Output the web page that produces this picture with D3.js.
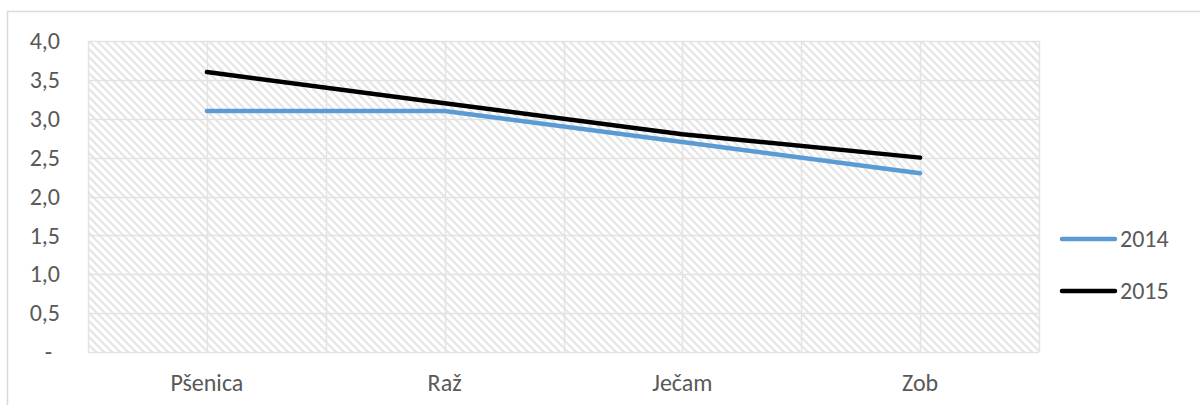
<!DOCTYPE html>
<html>
<head>
<meta charset="utf-8">
<script src="https://cdn.jsdelivr.net/npm/d3@7"></script>
<style>
  body { margin: 0; background: #fff; }
  svg text { font-family: Carlito, Calibri, "Open Sans", sans-serif; fill: #595959; }
</style>
</head>
<body>
<div id="chart"></div>
<script>
const categories = ["Pšenica", "Raž", "Ječam", "Zob"];
const values2014 = [3.1, 3.1, 2.7, 2.3];
const values2015 = [3.6, 3.2, 2.8, 2.5];
const yTicks = [0, 0.5, 1, 1.5, 2, 2.5, 3, 3.5, 4];

const series = [
    { name: "2014", values: values2014, color: "#5b9bd5" },
    { name: "2015", values: values2015, color: "#000000" }
];

const width = 1200, height = 405;
const plot = { left: 88, right: 1039, top: 41, bottom: 352 };

const svg = d3.select("#chart")
    .append("svg")
    .attr("width", width)
    .attr("height", height);

// chart area border (top and left only visible)
svg.append("rect")
    .attr("x", 7.5).attr("y", 11.5)
    .attr("width", 1200).attr("height", 420)
    .attr("fill", "#fff")
    .attr("stroke", "#d9d9d9")
    .attr("stroke-width", 1.5);

// hatch pattern
const pat = svg.append("defs").append("pattern")
    .attr("id", "hatch")
    .attr("patternUnits", "userSpaceOnUse")
    .attr("width", 8).attr("height", 8);
pat.append("rect").attr("width", 8).attr("height", 8).attr("fill", "#fff");
pat.append("path")
    .attr("d", "M-2,-2L10,10M-2,6L2,10M6,-2L10,2")
    .attr("stroke", "#e4e4e4")
    .attr("stroke-width", 2);

const x = d3.scaleBand()
    .domain(categories)
    .range([plot.left, plot.right]);

const y = d3.scaleLinear()
    .domain([0, 4])
    .range([plot.bottom, plot.top]);

svg.append("rect")
    .attr("x", plot.left).attr("y", plot.top)
    .attr("width", plot.right - plot.left)
    .attr("height", plot.bottom - plot.top)
    .attr("fill", "url(#hatch)");

// horizontal gridlines
svg.append("g")
    .selectAll("line")
    .data(yTicks)
    .join("line")
    .attr("x1", plot.left).attr("x2", plot.right)
    .attr("y1", d => Math.round(y(d)) + 0.5)
    .attr("y2", d => Math.round(y(d)) + 0.5)
    .attr("stroke", "#e3e3e3")
    .attr("stroke-width", 1.5);

// vertical gridlines at category centres and boundaries
const vLines = [];
categories.forEach(c => {
    vLines.push(x(c));
    vLines.push(x(c) + x.bandwidth() / 2);
});
vLines.push(plot.right);
svg.append("g")
    .selectAll("line")
    .data(vLines)
    .join("line")
    .attr("x1", d => Math.round(d) + 0.5).attr("x2", d => Math.round(d) + 0.5)
    .attr("y1", plot.top).attr("y2", plot.bottom)
    .attr("stroke", "#e3e3e3")
    .attr("stroke-width", 1.5);

// y axis labels
svg.append("g")
    .selectAll("text")
    .data(yTicks)
    .join("text")
    .attr("x", 60)
    .attr("y", d => y(d))
    .attr("dy", "0.34em")
    .attr("text-anchor", "end")
    .attr("font-size", 24)
    .text(d => d === 0 ? "-" : d3.format(".1f")(d).replace(".", ","))
    .attr("dx", d => d === 0 ? -8 : 0);

// x axis labels
svg.append("g")
    .selectAll("text")
    .data(categories)
    .join("text")
    .attr("x", d => x(d) + x.bandwidth() / 2)
    .attr("y", 391)
    .attr("text-anchor", "middle")
    .attr("font-size", 24)
    .text(d => d);

// lines
const line = d3.line()
    .x((d, i) => x(categories[i]) + x.bandwidth() / 2)
    .y(d => y(d));

svg.append("g")
    .selectAll("path")
    .data(series)
    .join("path")
    .attr("d", d => line(d.values))
    .attr("fill", "none")
    .attr("stroke", d => d.color)
    .attr("stroke-width", 4.5)
    .attr("stroke-linejoin", "round")
    .attr("stroke-linecap", "round");

// legend
const legend = svg.append("g")
    .selectAll("g")
    .data(series)
    .join("g")
    .attr("transform", (d, i) => `translate(1062, ${239 + i * 52})`);
legend.append("line")
    .attr("x1", 0).attr("x2", 53)
    .attr("stroke", d => d.color)
    .attr("stroke-width", 4.5)
    .attr("stroke-linecap", "round");
legend.append("text")
    .attr("x", 58)
    .attr("dy", "0.34em")
    .attr("font-size", 24)
    .text(d => d.name);
</script>
</body>
</html>
